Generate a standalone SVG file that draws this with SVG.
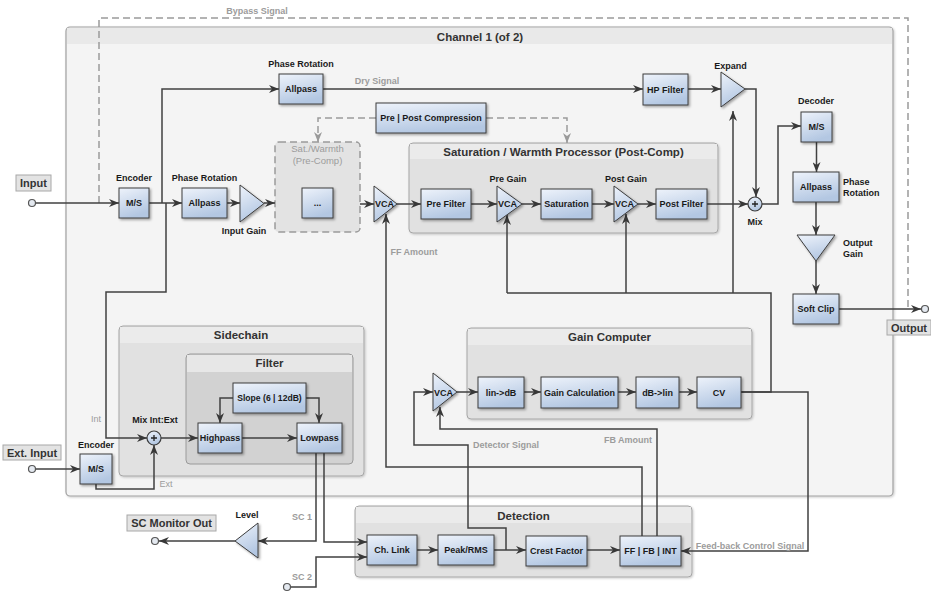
<svg xmlns="http://www.w3.org/2000/svg" width="931" height="597" viewBox="0 0 931 597">
<defs>
<linearGradient id="bg" x1="0" y1="0" x2="0.35" y2="1">
<stop offset="0" stop-color="#eef3fb"/>
<stop offset="1" stop-color="#b3c7e2"/>
</linearGradient>
<filter id="sh" x="-20%" y="-20%" width="150%" height="150%">
<feDropShadow dx="1.5" dy="1.5" stdDeviation="0.9" flood-color="#000" flood-opacity="0.35"/>
</filter>
<filter id="sh2" x="-5%" y="-5%" width="110%" height="110%">
<feDropShadow dx="1" dy="1" stdDeviation="0.8" flood-color="#000" flood-opacity="0.2"/>
</filter>
<marker id="a" markerUnits="userSpaceOnUse" markerWidth="10" markerHeight="8" viewBox="0 0 10 8" refX="10" refY="4" orient="auto">
<path d="M0,0 L10,4 L0,8 L3,4 z" fill="#383838"/>
</marker>
<marker id="ag" markerUnits="userSpaceOnUse" markerWidth="10" markerHeight="8" viewBox="0 0 10 8" refX="10" refY="4" orient="auto">
<path d="M0,0 L10,4 L0,8 L3,4 z" fill="#9a9a9a"/>
</marker>
<style>
text{font-family:"Liberation Sans",Arial,sans-serif}
.box{fill:url(#bg);stroke:#3c3c3c;stroke-width:1;filter:url(#sh)}
.t{font-size:9px;font-weight:bold;fill:#1a1a1a;text-anchor:middle}
.l{font-size:9px;font-weight:bold;fill:#1a1a1a;text-anchor:middle}
.ll{font-size:9px;font-weight:bold;fill:#1a1a1a}
.g{font-size:9px;font-weight:bold;fill:#9c9c9c;text-anchor:middle}
.gr{font-size:9.5px;fill:#9c9c9c;text-anchor:middle}
.h{font-size:11.5px;font-weight:bold;fill:#333;text-anchor:middle}
.io{font-size:11px;font-weight:bold;fill:#333;text-anchor:middle}
.iob{fill:#e3e3e3;stroke:#a8a8a8;stroke-width:1}
.grp{fill:#e1e1e1;stroke:#a6a6a6;stroke-width:1;filter:url(#sh2)}
.hd{fill:#ebebeb}
.w{fill:none;stroke:#404040;stroke-width:1.5;marker-end:url(#a)}
.wn{fill:none;stroke:#404040;stroke-width:1.5}
.d{fill:none;stroke:#9a9a9a;stroke-width:1.5;stroke-dasharray:7,4;marker-end:url(#ag)}
.dn{fill:none;stroke:#9a9a9a;stroke-width:1.5;stroke-dasharray:7,4}
.pt{fill:#e4e9f0;stroke:#555;stroke-width:1.2}
.mix{fill:url(#bg);stroke:#3c3c3c;stroke-width:1.2}
</style>
</defs>

<!-- Containers -->
<g id="channel">
<rect x="66" y="27" width="827" height="469" rx="4" fill="#f4f4f4" stroke="#a0a0a0" stroke-width="1.2" filter="url(#sh2)"/>
<rect x="67" y="28" width="825" height="16" fill="#e9e9e9"/>
<text class="h" x="480" y="41">Channel 1 (of 2)</text>
</g>
<g id="precomp">
<rect x="275" y="142" width="85" height="90" rx="4" fill="#e3e3e3" stroke="#9a9a9a" stroke-width="1.5" stroke-dasharray="7,4"/>
<text class="gr" x="317.5" y="151.5">Sat./Warmth</text>
<text class="gr" x="317.5" y="163.5">(Pre-Comp)</text>
</g>
<g id="satproc">
<rect class="grp" x="409" y="143" width="309" height="90" rx="4"/>
<rect class="hd" x="410" y="144" width="307" height="15"/>
<text class="h" x="563.5" y="156">Saturation / Warmth Processor (Post-Comp)</text>
</g>
<g id="sidechain">
<rect class="grp" x="119" y="326" width="245" height="150" rx="4"/>
<rect class="hd" x="120" y="327" width="243" height="16"/>
<text class="h" x="241" y="339">Sidechain</text>
</g>
<g id="filter">
<rect x="186" y="354" width="167" height="110" rx="4" fill="#d2d2d2" stroke="#9a9a9a" stroke-width="1"/>
<rect x="187" y="355" width="165" height="17" fill="#e7e7e7"/>
<text class="h" x="269.5" y="367">Filter</text>
</g>
<g id="gaincomputer">
<rect class="grp" x="467" y="328" width="285" height="91" rx="4"/>
<rect class="hd" x="468" y="329" width="283" height="16"/>
<text class="h" x="609.5" y="341">Gain Computer</text>
</g>
<g id="detection">
<rect class="grp" x="355" y="506" width="337" height="71" rx="4"/>
<rect class="hd" x="356" y="507" width="335" height="16"/>
<text class="h" x="523.5" y="520">Detection</text>
</g>

<!-- Connectors -->
<g id="connectors">
<path class="dn" d="M99,203 V18 H908 V309"/>
<path class="w" d="M36,203 H119"/>
<path class="w" d="M149,203 H182"/>
<path class="w" d="M162,203 V89 H279"/>
<path class="w" d="M166,203 V292 H106 V438 H147"/>
<path class="w" d="M227,203 H240"/>
<path class="w" d="M264,203 H275"/>
<path class="w" d="M360,204 H374"/>
<path class="w" d="M397,204 H421"/>
<path class="w" d="M471,204 H497"/>
<path class="w" d="M522,204 H541"/>
<path class="w" d="M592,204 H614"/>
<path class="w" d="M638,204 H656"/>
<path class="w" d="M707,204 H748"/>
<path class="w" d="M323,89 H643"/>
<path class="w" d="M688,89 H721"/>
<path class="w" d="M745,89 H756 V197"/>
<path class="w" d="M762,204 H778 V126 H801"/>
<path class="w" d="M816.5,142 V172"/>
<path class="w" d="M816,202 V235"/>
<path class="w" d="M816,261 V294"/>
<path class="w" d="M839,309 H921"/>
<path class="d" d="M376,118 H318 V142"/>
<path class="d" d="M486,118 H567 V143"/>
<path class="wn" d="M741,392 H771 V293 H507"/>
<path class="w" d="M507,293 V215"/>
<path class="w" d="M626,293 V214"/>
<path class="w" d="M733,293 V111"/>
<path class="w" d="M741,392 H808 V551 H681"/>
<path class="w" d="M457,392 H478"/>
<path class="w" d="M524,392 H541"/>
<path class="w" d="M618,392 H636"/>
<path class="w" d="M679,392 H697"/>
<path class="w" d="M506,550 V528 H468 V445 H414 V392 H433"/>
<path class="w" d="M657,536 V429 H440 V407"/>
<path class="w" d="M642,536 V467 H386 V214"/>
<path class="w" d="M417,550 H438"/>
<path class="w" d="M494,550 H526"/>
<path class="w" d="M587,550 H620"/>
<path class="w" d="M161,438 H198"/>
<path class="w" d="M242,438 H297"/>
<path class="w" d="M233,398 H220 V423"/>
<path class="w" d="M306,398 H319 V423"/>
<path class="w" d="M36,469 H80"/>
<path class="w" d="M96,484 V489 H154 V445"/>
<path class="w" d="M316,453 V541 H258"/>
<path class="w" d="M235,541 H159"/>
<path class="w" d="M324,453 V542 H367"/>
<path class="w" d="M291,587 H316 V557 H367"/>
</g>

<!-- Connector labels -->
<g id="connector-labels">
<text class="g" x="257" y="14">Bypass Signal</text>
<text class="g" x="377" y="84">Dry Signal</text>
<text class="g" x="414" y="255">FF Amount</text>
<text class="g" x="506" y="448">Detector Signal</text>
<text class="g" x="628" y="443">FB Amount</text>
<text class="g" x="750" y="549">Feed-back Control Signal</text>
<text class="gr" x="96" y="422" style="font-size:9px">Int</text>
<text class="gr" x="166" y="487" style="font-size:9px">Ext</text>
<text class="g" x="302" y="520">SC 1</text>
<text class="g" x="302" y="580">SC 2</text>
</g>

<!-- IO terminals -->
<g id="input">
<rect class="iob" x="16" y="175" width="35" height="16"/>
<text class="io" x="33.5" y="187">Input</text>
<circle class="pt" cx="32" cy="203" r="3.5"/>
</g>
<g id="output">
<rect class="iob" x="887" y="320" width="44" height="15"/>
<text class="io" x="909" y="332">Output</text>
<circle class="pt" cx="925" cy="309" r="3.5"/>
</g>
<g id="extinput">
<rect class="iob" x="3" y="445" width="58" height="15"/>
<text class="io" x="32" y="457">Ext. Input</text>
<circle class="pt" cx="32" cy="469" r="3.5"/>
</g>
<g id="scmonitor">
<rect class="iob" x="127" y="515" width="89" height="16"/>
<text class="io" x="171.5" y="527">SC Monitor Out</text>
<circle class="pt" cx="155" cy="541" r="3.5"/>
</g>
<g id="sc2">
<circle class="pt" cx="287" cy="587" r="3.5"/>
</g>

<!-- Nodes -->
<g id="encoder">
<rect class="box" x="119" y="188" width="30" height="30"/>
<text class="t" x="134" y="206">M/S</text>
<text class="l" x="134" y="181">Encoder</text>
</g>
<g id="allpass-top">
<rect class="box" x="279" y="74" width="44" height="30"/>
<text class="t" x="301" y="92">Allpass</text>
<text class="l" x="301" y="67">Phase Rotation</text>
</g>
<g id="allpass-in">
<rect class="box" x="182" y="188" width="45" height="30"/>
<text class="t" x="204.5" y="206">Allpass</text>
<text class="l" x="204.5" y="181">Phase Rotation</text>
</g>
<g id="inputgain">
<polygon class="box" points="240,185 264,203.5 240,222"/>
<text class="l" x="244" y="234">Input Gain</text>
</g>
<g id="precomp-inner">
<rect class="box" x="302" y="188" width="31" height="30"/>
<text class="t" x="317.5" y="206">...</text>
</g>
<g id="vca-ff">
<polygon class="box" points="374,186 397,204 374,222"/>
<text class="t" x="384.5" y="207">VCA</text>
</g>
<g id="prepost">
<rect class="box" x="376" y="103" width="110" height="30"/>
<text class="t" x="431" y="121">Pre | Post Compression</text>
</g>
<g id="prefilter">
<rect class="box" x="421" y="189" width="50" height="30"/>
<text class="t" x="446" y="207">Pre Filter</text>
</g>
<g id="pregain">
<polygon class="box" points="497,186 522,204 497,222"/>
<text class="t" x="507.5" y="207">VCA</text>
<text class="l" x="508" y="182">Pre Gain</text>
</g>
<g id="saturation">
<rect class="box" x="541" y="189" width="51" height="30"/>
<text class="t" x="566.5" y="207">Saturation</text>
</g>
<g id="postgain">
<polygon class="box" points="614,186 638,204 614,222"/>
<text class="t" x="624.5" y="207">VCA</text>
<text class="l" x="626" y="182">Post Gain</text>
</g>
<g id="postfilter">
<rect class="box" x="656" y="189" width="51" height="30"/>
<text class="t" x="681.5" y="207">Post Filter</text>
</g>
<g id="hpfilter">
<rect class="box" x="643" y="74" width="45" height="31"/>
<text class="t" x="665.5" y="92.5">HP Filter</text>
</g>
<g id="expand">
<polygon class="box" points="721,72 745,89 721,107"/>
<text class="l" x="730.5" y="69">Expand</text>
</g>
<g id="mix">
<circle class="mix" cx="755" cy="204" r="7"/>
<path d="M752,204 H758 M755,201 V207" stroke="#222" stroke-width="1.3"/>
<text class="l" x="755" y="225">Mix</text>
</g>
<g id="decoder">
<rect class="box" x="801" y="112" width="31" height="30"/>
<text class="t" x="816.5" y="130">M/S</text>
<text class="l" x="816" y="104">Decoder</text>
</g>
<g id="allpass-out">
<rect class="box" x="793" y="172" width="46" height="30"/>
<text class="t" x="816" y="190">Allpass</text>
<text class="ll" x="843" y="185">Phase</text>
<text class="ll" x="843" y="196">Rotation</text>
</g>
<g id="outputgain">
<polygon class="box" points="797,235 835,235 816,261"/>
<text class="ll" x="843" y="246">Output</text>
<text class="ll" x="843" y="257">Gain</text>
</g>
<g id="softclip">
<rect class="box" x="793" y="294" width="46" height="30"/>
<text class="t" x="816" y="312">Soft Clip</text>
</g>
<g id="vca-gc">
<polygon class="box" points="433,373 457,392 433,411"/>
<text class="t" x="443.5" y="395.5">VCA</text>
</g>
<g id="lin2db">
<rect class="box" x="478" y="377" width="46" height="31"/>
<text class="t" x="501" y="395.5">lin-&gt;dB</text>
</g>
<g id="gaincalc">
<rect class="box" x="541" y="377" width="77" height="31"/>
<text class="t" x="579.5" y="395.5">Gain Calculation</text>
</g>
<g id="db2lin">
<rect class="box" x="636" y="377" width="43" height="31"/>
<text class="t" x="657.5" y="395.5">dB-&gt;lin</text>
</g>
<g id="cv">
<rect class="box" x="697" y="377" width="44" height="31"/>
<text class="t" x="719" y="395.5">CV</text>
</g>
<g id="slope">
<rect class="box" x="233" y="383" width="73" height="30"/>
<text class="t" x="269.5" y="401" style="font-size:8.6px">Slope (6 | 12dB)</text>
</g>
<g id="highpass">
<rect class="box" x="198" y="423" width="44" height="30"/>
<text class="t" x="220" y="441">Highpass</text>
</g>
<g id="lowpass">
<rect class="box" x="297" y="423" width="45" height="30"/>
<text class="t" x="319.5" y="441">Lowpass</text>
</g>
<g id="mix-intext">
<circle class="mix" cx="154" cy="438" r="7"/>
<path d="M151,438 H157 M154,435 V441" stroke="#222" stroke-width="1.3"/>
<text class="l" x="155" y="423">Mix Int:Ext</text>
</g>
<g id="encoder-ext">
<rect class="box" x="80" y="454" width="32" height="30"/>
<text class="t" x="96" y="472">M/S</text>
<text class="l" x="96" y="448">Encoder</text>
</g>
<g id="level">
<polygon class="box" points="258,523 258,558 235,541"/>
<text class="l" x="247" y="518">Level</text>
</g>
<g id="chlink">
<rect class="box" x="367" y="535" width="50" height="30"/>
<text class="t" x="392" y="553">Ch. Link</text>
</g>
<g id="peakrms">
<rect class="box" x="438" y="535" width="56" height="30"/>
<text class="t" x="466" y="553">Peak/RMS</text>
</g>
<g id="crest">
<rect class="box" x="526" y="536" width="61" height="30"/>
<text class="t" x="556.5" y="554">Crest Factor</text>
</g>
<g id="ffbbint">
<rect class="box" x="620" y="536" width="61" height="30"/>
<text class="t" x="650.5" y="554">FF | FB | INT</text>
</g>
</svg>
